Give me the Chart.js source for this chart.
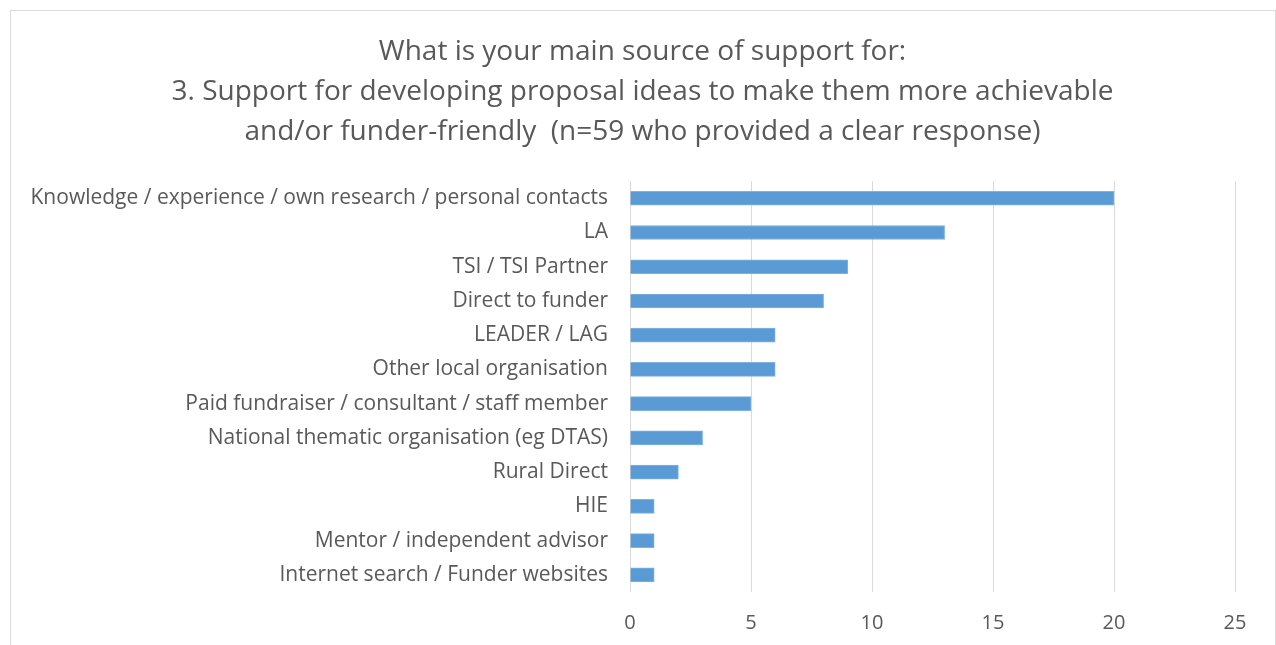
<!DOCTYPE html>
<html>
<head>
<meta charset="utf-8">
<script src="https://cdn.jsdelivr.net/npm/chart.js@4"></script>
<style>
  html, body { margin: 0; padding: 0; background: #fff; }
  #frame {
    position: absolute; left: 10px; top: 10px;
    width: 1264px; height: 700px;
    border: 1px solid #d9d9d9;
  }
  #wrap { position: absolute; left: 0; top: 0; width: 1276px; height: 645px; }
</style>
</head>
<body>
<div id="frame"></div>
<div id="wrap"><canvas id="chart" width="1276" height="645"></canvas></div>
<script>
const categories = [
  'Knowledge / experience / own research / personal contacts',
  'LA',
  'TSI / TSI Partner',
  'Direct to funder',
  'LEADER / LAG',
  'Other local organisation',
  'Paid fundraiser / consultant / staff member',
  'National thematic organisation (eg DTAS)',
  'Rural Direct',
  'HIE',
  'Mentor / independent advisor',
  'Internet search / Funder websites'
]
const counts = [20, 13, 9, 8, 6, 6, 5, 3, 2, 1, 1, 1]
const titleLines = [
  'What is your main source of support for:',
  '3. Support for developing proposal ideas to make them more achievable',
  'and/or funder-friendly  (n=59 who provided a clear response)'
]

const textColor = '#595959'
const fontFamily = "'Open Sans', sans-serif"

// centre the title on the whole frame rather than on the padded layout box
const centreTitle = {
  id: 'centreTitle',
  afterLayout(chart) {
    if (chart.titleBlock) {
      chart.titleBlock.left = 10
      chart.titleBlock.right = 1275
    }
  }
}

new Chart(document.getElementById('chart'), {
  type: 'bar',
  data: {
    labels: categories,
    datasets: [{
      data: counts,
      backgroundColor: '#5b9bd5',
      borderColor: '#7fb2e0',
      borderWidth: 1,
      barThickness: 14
    }]
  },
  plugins: [centreTitle],
  options: {
    indexAxis: 'y',
    responsive: false,
    animation: false,
    layout: { padding: { left: 0, right: 41, top: 0, bottom: 0 } },
    plugins: {
      legend: { display: false },
      tooltip: { enabled: false },
      title: {
        display: true,
        text: titleLines,
        color: textColor,
        font: { family: fontFamily, size: 28, weight: 'normal', lineHeight: 1.43 },
        padding: { top: 32, bottom: 29 }
      }
    },
    scales: {
      x: {
        min: 0,
        max: 25,
        ticks: { stepSize: 5, color: textColor, padding: 19, font: { family: fontFamily, size: 20 } },
        grid: { color: '#d9d9d9', drawTicks: false },
        border: { display: false },
        afterFit: (scale) => { scale.height = 53 }
      },
      y: {
        ticks: { color: textColor, padding: 14, font: { family: fontFamily, size: 21 } },
        grid: { display: false },
        border: { display: false },
        afterFit: (scale) => { scale.width = 630 }
      }
    }
  }
})
</script>
</body>
</html>
